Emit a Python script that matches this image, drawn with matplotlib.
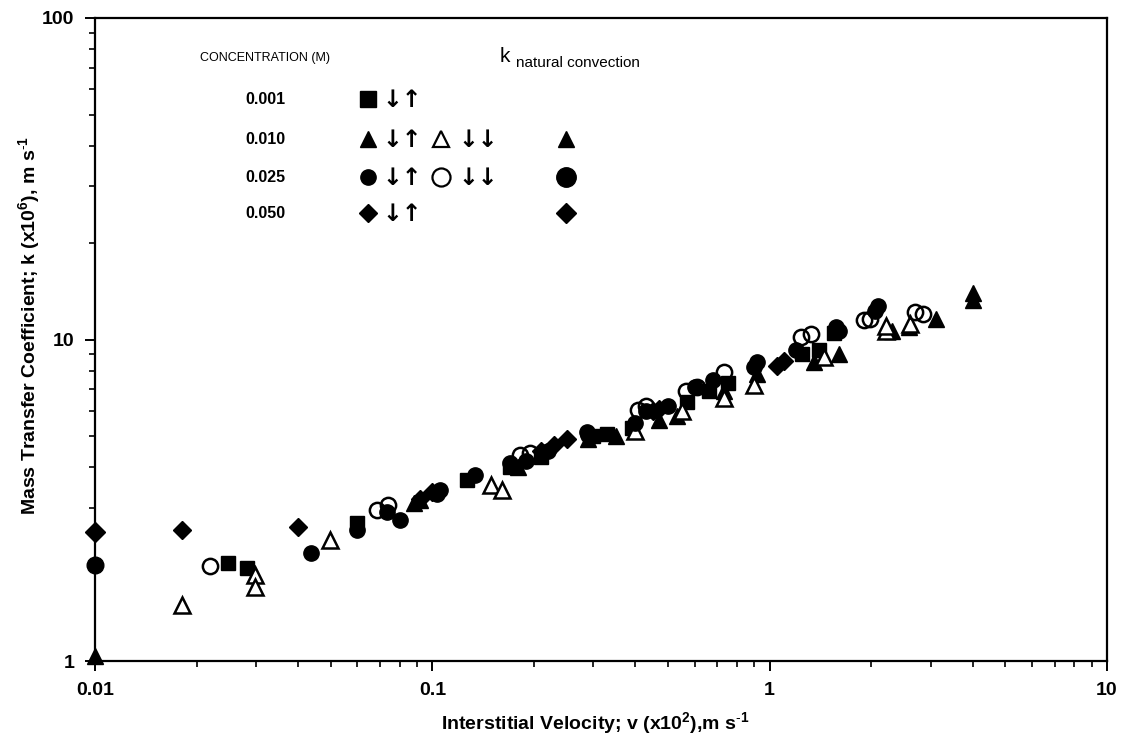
import matplotlib
matplotlib.use("Agg")
import matplotlib.pyplot as plt
from matplotlib.ticker import LogLocator, NullFormatter, FixedLocator, FixedFormatter

plt.rcParams["mathtext.fontset"] = "custom"
plt.rcParams["mathtext.rm"] = "Liberation Sans"
plt.rcParams["mathtext.bf"] = "Liberation Sans:bold"

# ---------------- data ----------------
# 0.001 M, filled squares
sq_x = [0.0248, 0.0283, 0.060, 0.127, 0.17, 0.21, 0.30, 0.33, 0.39, 0.57, 0.66, 0.75, 1.25, 1.40, 1.55]
sq_y = [2.02, 1.95, 2.69, 3.66, 4.0, 4.3, 5.0, 5.1, 5.3, 6.4, 6.9, 7.3, 9.0, 9.3, 10.5]

# 0.010 M, filled triangles
tri_x = [0.088, 0.092, 0.18, 0.29, 0.35, 0.47, 0.53, 0.73, 0.92, 1.35, 1.60, 2.30, 2.58, 3.11, 4.0, 4.0]
tri_y = [3.1, 3.17, 4.0, 4.9, 5.0, 5.6, 5.8, 6.9, 7.8, 8.5, 9.0, 10.6, 10.9, 11.6, 13.3, 14.0]

# 0.010 M, open triangles
otri_x = [0.0181, 0.0298, 0.0298, 0.0498, 0.149, 0.161, 0.40, 0.55, 0.73, 0.90, 1.45, 2.21, 2.21, 2.60]
otri_y = [1.49, 1.85, 1.70, 2.38, 3.53, 3.41, 5.2, 6.0, 6.6, 7.2, 8.8, 10.6, 11.0, 11.2]

# 0.025 M, filled circles
cir_x = [0.0437, 0.060, 0.0735, 0.0804, 0.1056, 0.103, 0.134, 0.17, 0.19, 0.22, 0.288, 0.29,
         0.40, 0.43, 0.50, 0.60, 0.68, 0.92, 0.90, 1.20, 1.57, 1.60, 2.09, 2.05]
cir_y = [2.17, 2.56, 2.91, 2.75, 3.41, 3.30, 3.8, 4.14, 4.2, 4.5, 5.17, 5.05,
         5.5, 6.0, 6.2, 7.1, 7.5, 8.5, 8.2, 9.3, 10.9, 10.6, 12.7, 12.3]

# 0.025 M, open circles
ocir_x = [0.0219, 0.0687, 0.074, 0.182, 0.195, 0.406, 0.429, 0.563, 0.611, 0.73, 1.236, 1.324,
          1.90, 1.99, 2.70, 2.84]
ocir_y = [1.98, 2.95, 3.06, 4.38, 4.42, 6.05, 6.2, 6.9, 7.1, 7.9, 10.2, 10.4,
          11.5, 11.6, 12.2, 12.0]

# 0.050 M, filled diamonds
dia_x = [0.0181, 0.040, 0.092, 0.10, 0.21, 0.23, 0.25, 0.45, 0.47, 1.05, 1.10]
dia_y = [2.56, 2.61, 3.2, 3.35, 4.5, 4.7, 4.9, 6.0, 6.1, 8.3, 8.6]

# natural convection (plotted at v = 0.01)
nc_x = [0.01, 0.01, 0.01]
nc_y = [1.04, 1.99, 2.52]
nc_markers = ["^", "o", "D"]

conc_labels = ["0.001", "0.010", "0.025", "0.050"]
x_ticks = [0.01, 0.1, 1, 10]
x_ticklabels = ["0.01", "0.1", "1", "10"]
y_ticks = [1, 10, 100]
y_ticklabels = ["1", "10", "100"]

# ---------------- figure ----------------
W, H = 1127, 751
fig = plt.figure(figsize=(W / 100, H / 100), dpi=100)
fig.subplots_adjust(left=95 / W, right=1107 / W, top=1 - 18 / H, bottom=1 - 661 / H)
ax = fig.add_subplot(111)
ax.set_xscale("log")
ax.set_yscale("log")
ax.set_xlim(0.01, 10)
ax.set_ylim(1, 100)

FAM = ["Liberation Sans", "DejaVu Sans"]

ms = 11
ax.plot(sq_x, sq_y, "s", color="black", ms=ms - 1, ls="none", clip_on=False)
ax.plot(tri_x, tri_y, "^", color="black", ms=ms, ls="none", clip_on=False)
ax.plot(otri_x, otri_y, "^", mfc="white", mec="black", mew=1.8, ms=ms, ls="none", clip_on=False)
ax.plot(cir_x, cir_y, "o", color="black", ms=ms, ls="none", clip_on=False)
ax.plot(ocir_x, ocir_y, "o", mfc="none", mec="black", mew=1.8, ms=ms, ls="none", clip_on=False)
ax.plot(dia_x, dia_y, "D", color="black", ms=ms - 2, ls="none", clip_on=False)
for xx, yy, mk in zip(nc_x, nc_y, nc_markers):
    ax.plot([xx], [yy], mk, color="black", ms=ms + 1 if mk != "D" else ms - 1, clip_on=False, zorder=5)

# ticks
ax.xaxis.set_major_locator(FixedLocator(x_ticks))
ax.xaxis.set_major_formatter(FixedFormatter(x_ticklabels))
ax.yaxis.set_major_locator(FixedLocator(y_ticks))
ax.yaxis.set_major_formatter(FixedFormatter(y_ticklabels))
ax.xaxis.set_minor_locator(LogLocator(base=10, subs=range(2, 10)))
ax.yaxis.set_minor_locator(LogLocator(base=10, subs=range(2, 10)))
ax.xaxis.set_minor_formatter(NullFormatter())
ax.yaxis.set_minor_formatter(NullFormatter())
ax.tick_params(which="major", direction="out", length=7, width=1.4, top=False, right=False, pad=8)
ax.tick_params(which="minor", direction="out", length=4, width=1.2, top=False, right=False)
for lab in ax.get_xticklabels() + ax.get_yticklabels():
    lab.set_fontsize(14)
    lab.set_fontweight("bold")
    lab.set_family(FAM)
for sp in ax.spines.values():
    sp.set_linewidth(1.6)

ax.set_xlabel(r"Interstitial Velocity; v (x10$^{\mathbf{2}}$),m s$^{\mathbf{\text{-}1}}$",
              fontsize=14, family=FAM, fontweight="bold", va="center")
ax.set_ylabel(r"Mass Transfer Coefficient; k (x10$^{\mathbf{6}}$), m s$^{\mathbf{\text{-}1}}$",
              fontsize=14, family=FAM, fontweight="bold", va="center")
ax.xaxis.set_label_coords((595 - 95) / 1012, (661 - 724) / 643)
ax.yaxis.set_label_coords((30 - 95) / 1012, (661 - 326) / 643)

# ---------------- hand-made legend ----------------
def ax_xy(px, py):
    return ((px - 95) / 1012, (661 - py) / 643)

def txt(px, py, s, **kw):
    x, y = ax_xy(px, py)
    ax.text(x, y, s, transform=ax.transAxes, va="center", **kw)

def mark(px, py, mk, filled=True, size=11):
    x, y = ax_xy(px, py)
    if filled:
        ax.plot([x], [y], mk, color="black", ms=size, transform=ax.transAxes, clip_on=False)
    else:
        ax.plot([x], [y], mk, mfc="white", mec="black", mew=1.6, ms=size, transform=ax.transAxes, clip_on=False)

txt(200, 58, "CONCENTRATION (M)", fontsize=9, family=FAM)
txt(500, 56, "k", fontsize=15, family=FAM)
txt(516, 63, "natural convection", fontsize=11, family=FAM)

rows_py = [99, 139, 177, 213]
for lab, py in zip(conc_labels, rows_py):
    txt(245, py, lab, fontsize=11.5, fontweight="bold", family=FAM)

ARW = dict(family=["DejaVu Sans"], fontsize=17, fontweight="bold", ha="center")

col1 = ["s", "^", "o", "D"]
for mk, py in zip(col1, rows_py):
    mark(368, py, mk, True, size=11 if mk != "D" else 9)
    txt(402, py + 1, "\u2193\u2191", **ARW)

for mk, py in zip(["^", "o"], rows_py[1:3]):
    mark(441, py, mk, False, size=11 if mk == "^" else 13)
    txt(478, py + 1, "\u2193\u2193", **ARW)

for mk, py in zip(["^", "o", "D"], rows_py[1:]):
    mark(566, py, mk, True, size=12 if mk == "^" else (14 if mk == "o" else 10))

fig.savefig("out.png", dpi=100)
